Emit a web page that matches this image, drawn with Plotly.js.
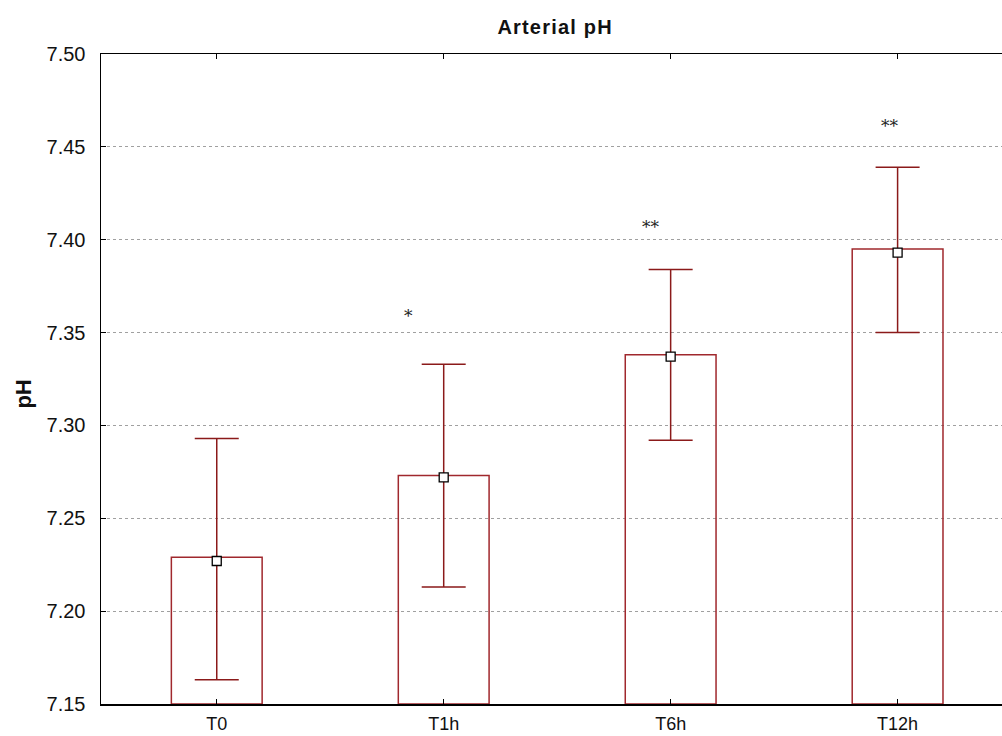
<!DOCTYPE html>
<html><head><meta charset="utf-8">
<script src="https://cdn.plot.ly/plotly-3.0.1.min.js"></script>
<style>html,body{margin:0;padding:0;background:#fff}#chart{width:1002px;height:736px}
#chart .gtitle{letter-spacing:1.2px}</style>
</head><body><div id="chart"></div>
<script>
const categories = ['T0', 'T1h', 'T6h', 'T12h'];
const barTops = [7.229, 7.273, 7.338, 7.395];
const means = [7.227, 7.272, 7.337, 7.393];
const upper = [7.293, 7.333, 7.384, 7.439];
const lower = [7.163, 7.213, 7.292, 7.350];
const sigLabels = ['', '*', '**', '**'];
const sigY = [null, 7.359, 7.407, 7.461];
const sigShift = [0, -0.155, -0.085, -0.035];
const yMin = 7.15, yMax = 7.50;

const idx = categories.map((c, i) => i);

const bars = {
  type: 'bar', x: idx, y: barTops.map(v => v - yMin), base: yMin,
  width: 0.4,
  marker: {color: 'rgba(255,255,255,0)', line: {color: '#a0282d', width: 1.5}},
  hoverinfo: 'skip', showlegend: false
};
const pts = {
  type: 'scatter', mode: 'markers', x: idx, y: means,
  marker: {symbol: 'square', size: 9, color: '#fff', line: {color: '#000', width: 1.3}},
  error_y: {type: 'data', symmetric: false,
    array: upper.map((u, i) => u - means[i]),
    arrayminus: lower.map((l, i) => means[i] - l),
    color: '#8b1a1a', thickness: 1.5, width: 22},
  showlegend: false
};
const annotations = [];
sigLabels.forEach((s, i) => {
  if (!s) return;
  annotations.push({x: i + sigShift[i], y: sigY[i], xref: 'x', yref: 'y', text: s,
    showarrow: false, font: {family: 'DejaVu Serif, serif', size: 17, color: '#222'}});
});
annotations.push({x: 0, xref: 'paper', xanchor: 'center', xshift: -77,
  y: 0.476, yref: 'paper', yanchor: 'middle', textangle: -90, showarrow: false,
  text: '<b>pH</b>', font: {size: 22, color: '#111'}});

const layout = {
  width: 1002, height: 736,
  margin: {l: 101, r: 0, t: 53.5, b: 32},
  paper_bgcolor: '#fff', plot_bgcolor: '#fff',
  font: {family: 'Liberation Sans, Arial, sans-serif', size: 19, color: '#111'},
  title: {text: '<b>Arterial pH</b>', x: 0.554, xanchor: 'center', y: 0.963, yanchor: 'middle',
    font: {size: 20, color: '#111'}},
  xaxis: {range: [-0.51, 3.46], tickvals: idx, ticktext: categories,
    ticks: 'inside', ticklen: 5, tickcolor: '#000', ticklabelstandoff: 3,
    showgrid: false, zeroline: false,
    showline: true, linecolor: '#000', linewidth: 1.5, mirror: 'allticks',
    tickfont: {size: 18}},
  yaxis: {range: [yMin, yMax], dtick: 0.05, tick0: yMin, tickformat: '.2f',
    ticks: 'inside', ticklen: 5, tickcolor: '#000', ticklabelstandoff: 10,
    showgrid: true, gridcolor: '#a0a0a0', griddash: 'dot', gridwidth: 1,
    zeroline: false, showline: true, linecolor: '#000', linewidth: 1.5,
    tickfont: {size: 20}},
  annotations: annotations,
  bargap: 0
};
Plotly.newPlot('chart', [bars, pts], layout, {displayModeBar: false, staticPlot: true});
</script></body></html>
